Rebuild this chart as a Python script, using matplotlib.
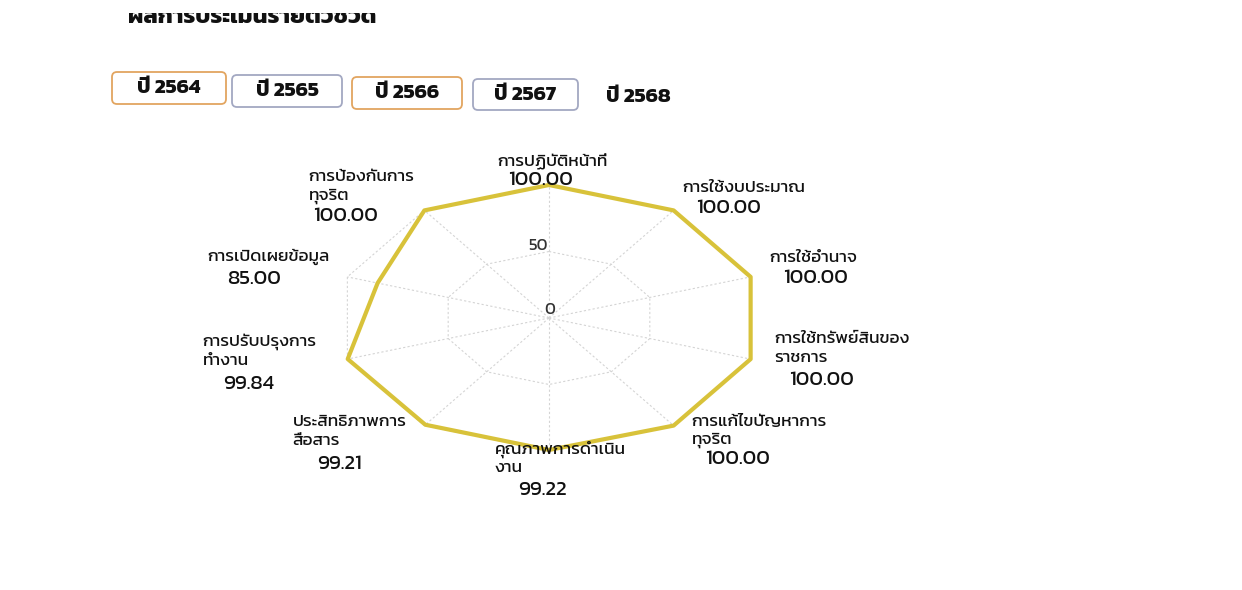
import numpy as np
import matplotlib
matplotlib.use("Agg")
import matplotlib.pyplot as plt
from matplotlib.patches import FancyBboxPatch
from matplotlib.transforms import Bbox, TransformedBbox

# --- data
categories = [
    "การปฏิบัติหน้าที่",
    "การใช้งบประมาณ",
    "การใช้อำนาจ",
    "การใช้ทรัพย์สินของ\nราชการ",
    "การแก้ไขปัญหาการ\nทุจริต",
    "คุณภาพการดำเนิน\nงาน",
    "ประสิทธิภาพการ\nสื่อสาร",
    "การปรับปรุงการ\nทำงาน",
    "การเปิดเผยข้อมูล",
    "การป้องกันการ\nทุจริต",
]
scores = [100.00, 100.00, 100.00, 100.00, 100.00, 99.22, 99.21, 99.84, 85.00, 100.00]
r_ticks = [0, 50]
r_grid = [50, 100]
years = ["ปี 2564", "ปี 2565", "ปี 2566", "ปี 2567", "ปี 2568"]
title = "ผลการประเมินรายตัวชี้วัด"

# --- layout (pixel offsets from each r=100 vertex: first label line, value line)
label_off = [(-52, -23), (9, -22), (19, -19), (24, -20), (18, -4),
             (-54, -2), (-132, -4), (-145, -17), (-140, -20), (-116, -33)]
value_off = [(-41, -5), (22, -2), (32, 1), (38, 21), (31, 33),
             (-31, 39), (-107, 38), (-124, 25), (-120, 2), (-111, 6)]
line_step = 19

# buttons: left, top, width, height in px, border colour
btn_boxes = [(112, 72, 114, 32, "#e2a560"), (232, 75, 110, 32, "#a3a8c2"),
             (352, 77, 110, 32, "#e2a560"), (473, 79, 105, 31, "#a3a8c2"),
             (594, 82, 88, 31, None)]

LINE = "#d8c23a"
GRID = "#d4d4d4"
W, H = 1242, 590

plt.rcParams["font.family"] = ["Kanit", "DejaVu Sans"]
fig = plt.figure(figsize=(W / 100, H / 100), dpi=100)
fig.patch.set_facecolor("white")

# title, its upper half cut off like in the photo
t = fig.text(128 / W, 1 - 23 / H, title, fontsize=17, fontweight="bold",
             color="#111111", va="baseline", ha="left")
t.set_clip_box(TransformedBbox(Bbox([[0, 0], [W / 100, (H - 13) / 100]]),
                               fig.dpi_scale_trans))
t.set_clip_on(True)

# year buttons
for (x, y, w, h, ec), lab in zip(btn_boxes, years):
    if ec is not None:
        box = FancyBboxPatch((x / 100, (H - y - h) / 100), w / 100, h / 100,
                             boxstyle="round,pad=0,rounding_size=0.05",
                             transform=fig.dpi_scale_trans, fc="white", ec=ec,
                             lw=1.3)
        fig.patches.append(box)
    fig.text((x + w / 2) / W, 1 - (y + h / 2) / H, lab, fontsize=15,
             fontweight="bold", color="#111111", ha="center", va="center")

# radar
n = len(categories)
angles = np.arange(n) * 2 * np.pi / n
closed_a = np.append(angles, angles[0])

cx, cy, rx, ry = 549, 318, 212, 133
ax = fig.add_axes([(cx - rx) / W, (H - cy - ry) / H, 2 * rx / W, 2 * ry / H],
                  projection="polar")
ax.set_aspect("auto")
ax.set_theta_zero_location("N")
ax.set_theta_direction(-1)
ax.set_ylim(0, 100)
ax.grid(False)
ax.set_xticks([])
ax.set_yticks([])
ax.spines["polar"].set_visible(False)
ax.patch.set_alpha(0)

for lev in r_grid:
    ax.plot(closed_a, [lev] * (n + 1), color=GRID, lw=0.8,
            ls=(0, (2, 2)), clip_on=False, zorder=1)
for a in angles:
    ax.plot([a, a], [0, 100], color=GRID, lw=0.8, ls=(0, (2, 2)),
            clip_on=False, zorder=1)

ax.plot(closed_a, np.append(scores, scores[0]), color=LINE, lw=3.0,
        solid_joinstyle="round", clip_on=False, zorder=3)

for tk in r_ticks:
    dx, dy = (1, 8) if tk == 0 else (-11, 6)
    ax.annotate(str(tk), xy=(0, tk), xytext=(dx, dy), textcoords="offset pixels",
                ha="center", va="center", fontsize=12, color="#333333",
                zorder=4)

for a, cat, v, lo, vo in zip(angles, categories, scores, label_off, value_off):
    for j, line in enumerate(cat.split("\n")):
        ax.annotate(line, xy=(a, 100), xytext=(lo[0], -(lo[1] + j * line_step)),
                    textcoords="offset pixels", ha="left", va="center",
                    fontsize=12.5, color="#111111", annotation_clip=False)
    ax.annotate(f"{v:.2f}", xy=(a, 100), xytext=(vo[0], -vo[1]),
                textcoords="offset pixels", ha="left", va="center",
                fontsize=15, color="#111111", annotation_clip=False)

fig.savefig("out.png", dpi=100, facecolor="white")
